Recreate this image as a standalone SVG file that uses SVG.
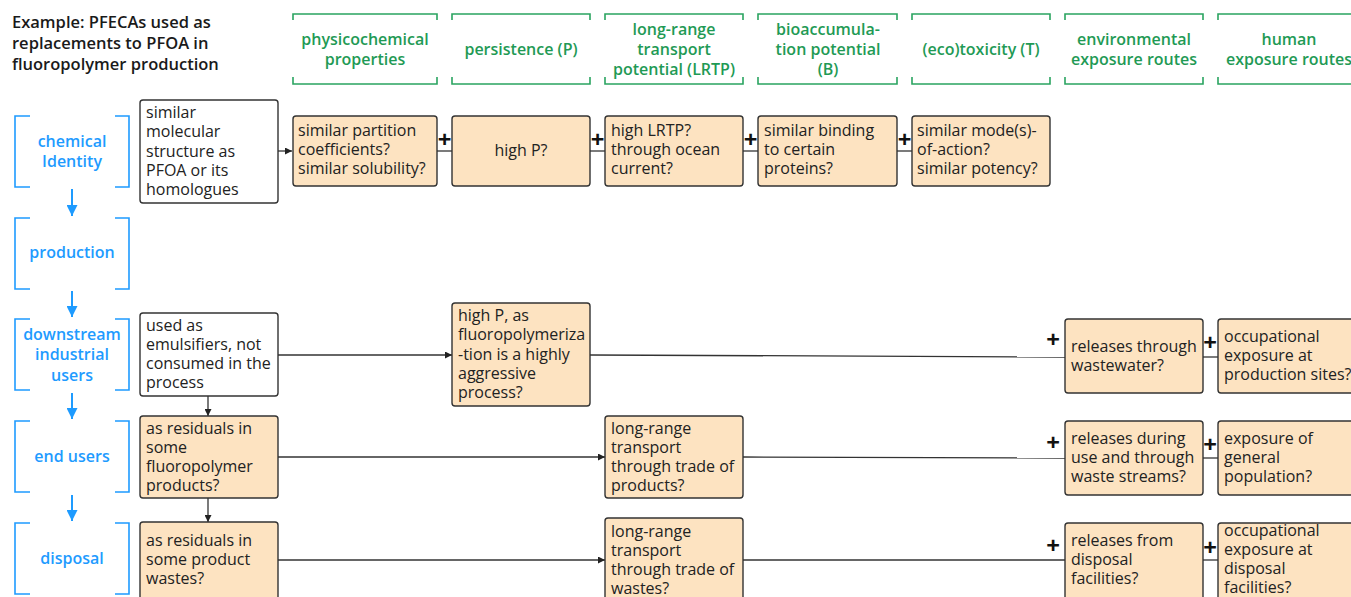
<svg xmlns="http://www.w3.org/2000/svg" width="1351" height="597" viewBox="0 0 1351 597">
<defs>
<marker id="ah" viewBox="0 0 10 10" refX="10" refY="5" markerWidth="9" markerHeight="7" markerUnits="userSpaceOnUse" orient="auto"><path d="M0,0 L10,5 L0,10 z" fill="#222"/></marker>
<marker id="bh" viewBox="0 0 10 10" refX="10" refY="5" markerWidth="14" markerHeight="11" markerUnits="userSpaceOnUse" orient="auto"><path d="M0,0 L10,5 L0,10 z" fill="#1e9bff"/></marker>
</defs>
<style>
text{font-family:"Open Sans","Noto Sans","Liberation Sans",sans-serif;}
.title{font-size:16.5px;font-weight:600;fill:#1a1a1a;}
.hd{font-size:16px;font-weight:600;fill:#1f9a55;text-anchor:middle;}
.gb{fill:none;stroke:#2aa460;stroke-width:1.6;}
.st{font-size:16px;font-weight:600;fill:#1e9bff;text-anchor:middle;}
.bb{fill:none;stroke:#1e9bff;stroke-width:1.6;}
.ba{stroke:#1e9bff;stroke-width:2;fill:none;}
.w{fill:#fff;stroke:#333;stroke-width:1.4;}
.o{fill:#fde3c1;stroke:#333;stroke-width:1.4;}
.t{font-size:16px;fill:#222;}
.c{stroke:#333;stroke-width:1.3;fill:none;}
.p{font-size:24px;font-weight:700;fill:#111;text-anchor:middle;}
</style>

<g id="title">
<text class="title" x="12" y="28">Example: PFECAs used as</text>
<text class="title" x="12" y="49">replacements to PFOA in</text>
<text class="title" x="12" y="70">fluoropolymer production</text>
</g>

<g id="headers">
<g id="h-physchem"><path class="gb" d="M293,20 V14 H437 V20 M293,77 V84 H437 V77"/><text class="hd" x="365" y="45">physicochemical</text><text class="hd" x="365" y="65">properties</text></g>
<g id="h-persist"><path class="gb" d="M452,20 V14 H590 V20 M452,77 V84 H590 V77"/><text class="hd" x="521" y="55">persistence (P)</text></g>
<g id="h-lrtp"><path class="gb" d="M605,20 V14 H743 V20 M605,77 V84 H743 V77"/><text class="hd" x="674" y="35">long-range</text><text class="hd" x="674" y="55">transport</text><text class="hd" x="674" y="75">potential (LRTP)</text></g>
<g id="h-bio"><path class="gb" d="M758,20 V14 H897 V20 M758,77 V84 H897 V77"/><text class="hd" x="828" y="35">bioaccumula-</text><text class="hd" x="828" y="55">tion potential</text><text class="hd" x="828" y="75">(B)</text></g>
<g id="h-tox"><path class="gb" d="M912,20 V14 H1050 V20 M912,77 V84 H1050 V77"/><text class="hd" x="981" y="55">(eco)toxicity (T)</text></g>
<g id="h-env"><path class="gb" d="M1065,20 V14 H1203 V20 M1065,77 V84 H1203 V77"/><text class="hd" x="1134" y="45">environmental</text><text class="hd" x="1134" y="65">exposure routes</text></g>
<g id="h-human"><path class="gb" d="M1218,20 V14 H1355 M1218,77 V84 H1355"/><text class="hd" x="1289" y="45">human</text><text class="hd" x="1289" y="65">exposure routes</text></g>
</g>

<g id="stages">
<g id="s-chem"><path class="bb" d="M30,116 H15 V187 H30 M115,116 H129 V187 H115"/><text class="st" x="72" y="147">chemical</text><text class="st" x="72" y="167">Identity</text></g>
<g id="s-prod"><path class="bb" d="M30,218 H15 V289 H30 M115,218 H129 V289 H115"/><text class="st" x="72" y="258">production</text></g>
<g id="s-down"><path class="bb" d="M30,319 H15 V390 H30 M115,319 H129 V390 H115"/><text class="st" x="72" y="340">downstream</text><text class="st" x="72" y="360">industrial</text><text class="st" x="72" y="381">users</text></g>
<g id="s-end"><path class="bb" d="M30,421 H15 V492 H30 M115,421 H129 V492 H115"/><text class="st" x="72" y="462">end users</text></g>
<g id="s-disp"><path class="bb" d="M30,523 H15 V594 H30 M115,523 H129 V594 H115"/><text class="st" x="72" y="564">disposal</text></g>
</g>

<g id="connectors">
<line class="ba" x1="72" y1="189" x2="72" y2="216" marker-end="url(#bh)"/>
<line class="ba" x1="72" y1="291" x2="72" y2="317" marker-end="url(#bh)"/>
<line class="ba" x1="72" y1="393" x2="72" y2="419" marker-end="url(#bh)"/>
<line class="ba" x1="72" y1="495" x2="72" y2="521" marker-end="url(#bh)"/>
<line class="c" x1="278" y1="151" x2="292" y2="151" marker-end="url(#ah)"/>
<line class="c" x1="437" y1="151" x2="452" y2="151"/>
<line class="c" x1="590" y1="151" x2="605" y2="151"/>
<line class="c" x1="743" y1="151" x2="758" y2="151"/>
<line class="c" x1="897" y1="151" x2="912" y2="151"/>
<line class="c" x1="278" y1="355" x2="452" y2="355" marker-end="url(#ah)"/>
<line class="c" x1="590" y1="355" x2="1065" y2="357"/>
<line class="c" x1="1203" y1="357" x2="1218" y2="357"/>
<line class="c" x1="208" y1="396" x2="208" y2="416" marker-end="url(#ah)"/>
<line class="c" x1="278" y1="457" x2="605" y2="457" marker-end="url(#ah)"/>
<line class="c" x1="743" y1="457" x2="1065" y2="458"/>
<line class="c" x1="1203" y1="458" x2="1218" y2="458"/>
<line class="c" x1="208" y1="498" x2="208" y2="522" marker-end="url(#ah)"/>
<line class="c" x1="278" y1="560" x2="605" y2="560" marker-end="url(#ah)"/>
<line class="c" x1="743" y1="560" x2="1065" y2="560"/>
<line class="c" x1="1203" y1="560" x2="1218" y2="560"/>
<text class="p" x="444.5" y="148">+</text>
<text class="p" x="597.5" y="148">+</text>
<text class="p" x="750.5" y="148">+</text>
<text class="p" x="904.5" y="148">+</text>
<text class="p" x="1053" y="348">+</text>
<text class="p" x="1210" y="351">+</text>
<text class="p" x="1053" y="451">+</text>
<text class="p" x="1210" y="453">+</text>
<text class="p" x="1053" y="554">+</text>
<text class="p" x="1210" y="556">+</text>
</g>

<g id="n-struct"><rect class="w" x="140" y="100" width="138" height="103" rx="3"/><text class="t" x="146" y="118">similar</text><text class="t" x="146" y="137">molecular</text><text class="t" x="146" y="157">structure as</text><text class="t" x="146" y="176">PFOA or its</text><text class="t" x="146" y="195">homologues</text></g>
<g id="n-partition"><rect class="o" x="293" y="116" width="144" height="70" rx="3"/><text class="t" x="298" y="136">similar partition</text><text class="t" x="298" y="155">coefficients?</text><text class="t" x="298" y="174">similar solubility?</text></g>
<g id="n-highp"><rect class="o" x="452" y="116" width="138" height="70" rx="3"/><text class="t" x="521" y="156" text-anchor="middle">high P?</text></g>
<g id="n-lrtp"><rect class="o" x="605" y="116" width="138" height="70" rx="3"/><text class="t" x="611" y="136">high LRTP?</text><text class="t" x="611" y="155">through ocean</text><text class="t" x="611" y="174">current?</text></g>
<g id="n-binding"><rect class="o" x="758" y="116" width="139" height="70" rx="3"/><text class="t" x="764" y="136">similar binding</text><text class="t" x="764" y="155">to certain</text><text class="t" x="764" y="174">proteins?</text></g>
<g id="n-mode"><rect class="o" x="912" y="116" width="138" height="70" rx="3"/><text class="t" x="917" y="136">similar mode(s)-</text><text class="t" x="917" y="155">of-action?</text><text class="t" x="917" y="174">similar potency?</text></g>

<g id="n-emuls"><rect class="w" x="140" y="313" width="138" height="83" rx="3"/><text class="t" x="146" y="331">used as</text><text class="t" x="146" y="350">emulsifiers, not</text><text class="t" x="146" y="369">consumed in the</text><text class="t" x="146" y="388">process</text></g>
<g id="n-highp2"><rect class="o" x="452" y="303" width="138" height="103" rx="3"/><text class="t" x="458" y="321">high P, as</text><text class="t" x="458" y="340">fluoropolymeriza</text><text class="t" x="458" y="360">-tion is a highly</text><text class="t" x="458" y="379">aggressive</text><text class="t" x="458" y="398">process?</text></g>
<g id="n-wastewater"><rect class="o" x="1065" y="319" width="138" height="74" rx="3"/><text class="t" x="1071" y="352">releases through</text><text class="t" x="1071" y="371">wastewater?</text></g>
<g id="n-occprod"><rect class="o" x="1218" y="319" width="140" height="74" rx="3"/><text class="t" x="1224" y="342">occupational</text><text class="t" x="1224" y="361">exposure at</text><text class="t" x="1224" y="380">production sites?</text></g>

<g id="n-resprod"><rect class="o" x="140" y="416" width="138" height="82" rx="3"/><text class="t" x="146" y="434">as residuals in</text><text class="t" x="146" y="453">some</text><text class="t" x="146" y="472">fluoropolymer</text><text class="t" x="146" y="491">products?</text></g>
<g id="n-tradeprod"><rect class="o" x="605" y="416" width="138" height="82" rx="3"/><text class="t" x="611" y="434">long-range</text><text class="t" x="611" y="453">transport</text><text class="t" x="611" y="472">through trade of</text><text class="t" x="611" y="491">products?</text></g>
<g id="n-use"><rect class="o" x="1065" y="421" width="138" height="74" rx="3"/><text class="t" x="1071" y="444">releases during</text><text class="t" x="1071" y="463">use and through</text><text class="t" x="1071" y="482">waste streams?</text></g>
<g id="n-general"><rect class="o" x="1218" y="421" width="140" height="74" rx="3"/><text class="t" x="1224" y="444">exposure of</text><text class="t" x="1224" y="463">general</text><text class="t" x="1224" y="482">population?</text></g>

<g id="n-reswaste"><rect class="o" x="140" y="522" width="138" height="82" rx="3"/><text class="t" x="146" y="546">as residuals in</text><text class="t" x="146" y="565">some product</text><text class="t" x="146" y="584">wastes?</text></g>
<g id="n-tradewaste"><rect class="o" x="605" y="518" width="138" height="86" rx="3"/><text class="t" x="611" y="537">long-range</text><text class="t" x="611" y="556">transport</text><text class="t" x="611" y="575">through trade of</text><text class="t" x="611" y="594">wastes?</text></g>
<g id="n-disprel"><rect class="o" x="1065" y="523" width="138" height="81" rx="3"/><text class="t" x="1071" y="546">releases from</text><text class="t" x="1071" y="565">disposal</text><text class="t" x="1071" y="584">facilities?</text></g>
<g id="n-occdisp"><rect class="o" x="1218" y="523" width="140" height="81" rx="3"/><text class="t" x="1224" y="536">occupational</text><text class="t" x="1224" y="555">exposure at</text><text class="t" x="1224" y="574">disposal</text><text class="t" x="1224" y="593">facilities?</text></g>
</svg>
